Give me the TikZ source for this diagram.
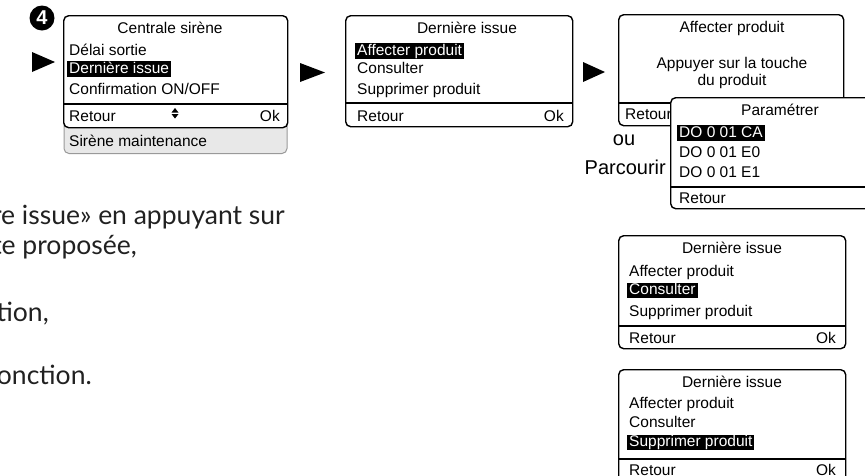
\documentclass[tikz,border=0pt]{standalone}
\usepackage{fontspec}
\setmainfont{Liberation Sans}
\newfontfamily\latofont{Lato}
\begin{document}
\begin{tikzpicture}[x=1pt,y=-1pt,
  screen/.style={draw=black, line width=1.4pt, rounded corners=5pt, fill=white, inner sep=0pt, anchor=north west},
  sep/.style={line width=1.4pt},
  tx/.style={inner sep=0pt, font=\fontsize{15.5}{18}\selectfont, text=black},
  big/.style={inner sep=0pt, font=\fontsize{20}{24}\selectfont, text=black},
  hl/.style={tx, fill=black, text=white, inner xsep=2pt, text height=12pt, text depth=3.5pt},
  body/.style={inner sep=0pt, font=\latofont\fontsize{26.5}{32}\selectfont, text=black!87},
  tri/.style={fill=black}
]
\useasboundingbox (0,0) rectangle (865,475);
\clip (0,0) rectangle (865,475);

% ---------- left body text (cropped) ----------
\node[body, anchor=base east] (t1) at (285,224) {re issue» en appuyant sur};
\node[body, anchor=base east] (t2) at (137,254) {te proposée,};
\node[body, anchor=base east] (t3) at (49,321) {tion,};
\node[body, anchor=base east] (t4) at (92,384) {onction.};

% ---------- screen 1 ----------
\node[draw=black!40, fill=black!9, line width=1pt, rounded corners=5pt, inner sep=0pt,
      minimum width=223pt, minimum height=40pt, anchor=north west] (g1) at (63.5,113) {};
\node[screen, minimum width=224pt, minimum height=112pt] (s1) at (63,15) {};
\draw[sep] (s1.west |- 0,104) -- (s1.east |- 0,104);
\fill[black] (42,18) circle (12.5pt);
\node[text=white, inner sep=0pt, font=\fontsize{20}{20}\selectfont\bfseries] (n4) at (42,18) {4};
\node[tx, anchor=base] (s1t) at (170,33) {Centrale sirène};
\node[tx, anchor=base west] (s1a) at (69,55) {Délai sortie};
\node[hl, anchor=base west] (s1b) at (67,73) {Dernière issue\hspace{5pt}};
\node[tx, anchor=base west] (s1c) at (69,94) {Confirmation ON/OFF};
\node[tx, anchor=base west] (s1r) at (69,121) {Retour};
\node[tx, anchor=base east] (s1o) at (280,121) {Ok};
\fill (171.5,112.5) -- (178.5,112.5) -- (175,108) -- cycle;
\fill (171.5,114) -- (178.5,114) -- (175,118.5) -- cycle;
\node[tx, anchor=base west] (g1t) at (69,146) {Sirène maintenance};

% ---------- arrow 1 ----------
\fill[tri] (32,52) -- (55,62) -- (32,72) -- cycle;

% ---------- screen 2 ----------
\node[screen, minimum width=227pt, minimum height=111pt] (s2) at (345,15) {};
\draw[sep] (s2.west |- 0,103) -- (s2.east |- 0,103);
\node[tx, anchor=base] (s2t) at (467,33) {Dernière issue};
\node[hl, anchor=base west] (s2a) at (355,55) {Affecter produit\hspace{3pt}};
\node[tx, anchor=base west] (s2b) at (357,73) {Consulter};
\node[tx, anchor=base west] (s2c) at (357,94) {Supprimer produit};
\node[tx, anchor=base west] (s2r) at (357,121) {Retour};
\node[tx, anchor=base east] (s2o) at (564,121) {Ok};

% ---------- arrow 2 ----------
\fill[tri] (300,63) -- (325,72.5) -- (300,82) -- cycle;

% ---------- screen 3 ----------
\node[screen, minimum width=225pt, minimum height=111pt] (s3) at (618,14) {};
\draw[sep] (s3.west |- 0,103) -- (s3.east |- 0,103);
\node[tx, anchor=base] (s3t) at (732,32) {Affecter produit};
\node[tx, anchor=base] (s3a) at (732,68.5) {Appuyer sur la touche};
\node[tx, anchor=base] (s3b) at (732,85.5) {du produit};
\node[tx, anchor=base west] (s3r) at (625,119.5) {Retour};

% ---------- arrow 3 ----------
\fill[tri] (583,62) -- (605,72) -- (583,82) -- cycle;

% ---------- screen Paramétrer ----------
\node[screen, minimum width=220pt, minimum height=111pt] (s4) at (670,97) {};
\draw[sep] (s4.west |- 0,187) -- (s4.east |- 0,187);
\node[tx, anchor=base] (s4t) at (780,115.5) {Paramétrer};
\node[hl, anchor=base west] (s4a) at (677,137) {DO 0 01 CA\hspace{6pt}};
\node[tx, anchor=base west] (s4b) at (679,157.5) {DO 0 01 E0};
\node[tx, anchor=base west] (s4c) at (679,177.5) {DO 0 01 E1};
\node[tx, anchor=base west] (s4r) at (679,203) {Retour};

\node[big, anchor=base] (ou) at (624,145) {ou};
\node[big, anchor=base east] (parc) at (666,174) {Parcourir};

% ---------- screen Consulter ----------
\node[screen, minimum width=227pt, minimum height=113pt] (s5) at (618,235) {};
\draw[sep] (s5.west |- 0,326) -- (s5.east |- 0,326);
\node[tx, anchor=base] (s5t) at (732,253.5) {Dernière issue};
\node[tx, anchor=base west] (s5a) at (629,276.5) {Affecter produit};
\node[hl, anchor=base west] (s5b) at (627,294.5) {Consulter\hspace{2pt}};
\node[tx, anchor=base west] (s5c) at (629,316.5) {Supprimer produit};
\node[tx, anchor=base west] (s5r) at (629,343.5) {Retour};
\node[tx, anchor=base east] (s5o) at (836,343.5) {Ok};

% ---------- screen Supprimer ----------
\node[screen, minimum width=227pt, minimum height=113pt] (s6) at (618,369) {};
\draw[sep] (s6.west |- 0,459) -- (s6.east |- 0,459);
\node[tx, anchor=base] (s6t) at (732,387.5) {Dernière issue};
\node[tx, anchor=base west] (s6a) at (629,408.5) {Affecter produit};
\node[tx, anchor=base west] (s6b) at (629,427.5) {Consulter};
\node[hl, anchor=base west] (s6c) at (627,446.5) {Supprimer produit\hspace{2pt}};
\node[tx, anchor=base west] (s6r) at (629,475) {Retour};
\node[tx, anchor=base east] (s6o) at (836,475) {Ok};
\end{tikzpicture}
\end{document}
